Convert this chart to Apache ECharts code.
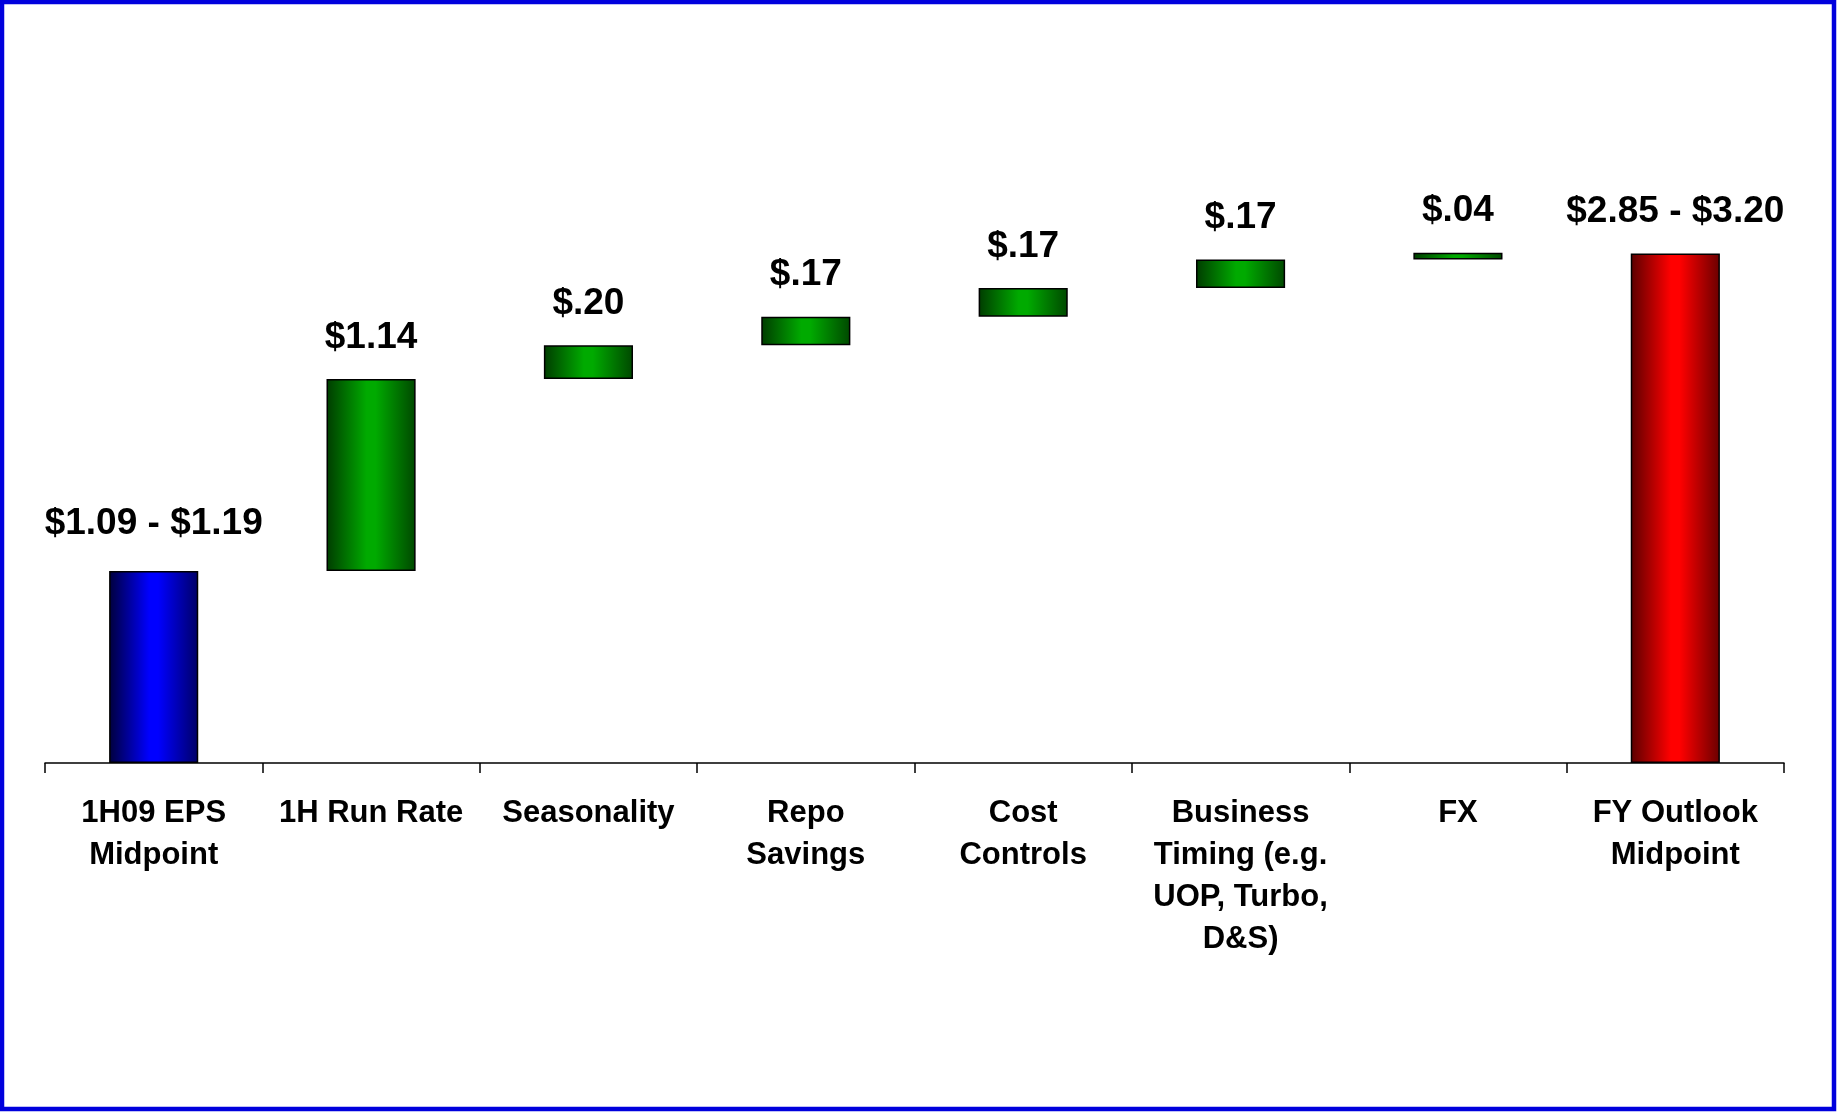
<!DOCTYPE html>
<html>
<head>
<meta charset="utf-8">
<script src="https://cdn.jsdelivr.net/npm/echarts@6/dist/echarts.min.js"></script>
<style>
  html, body { margin: 0; padding: 0; background: #ffffff; }
  #chart { width: 1837px; height: 1112px; }
</style>
</head>
<body>
<div id="chart"></div>
<script>
// EPS bridge: 1H09 midpoint to full-year outlook midpoint
const categories = [
  '1H09 EPS\nMidpoint',
  '1H Run Rate',
  'Seasonality',
  'Repo\nSavings',
  'Cost\nControls',
  'Business\nTiming (e.g.\nUOP, Turbo,\nD&S)',
  'FX',
  'FY Outlook\nMidpoint'
];
const startRange = [1.09, 1.19];   // 1H09 EPS range
const steps = [1.14, 0.20, 0.17, 0.17, 0.17, 0.04];   // increments
const endRange = [2.85, 3.20];     // FY outlook range

const FONT = '"Liberation Sans", Arial, Helvetica, sans-serif';

function money(v) {
  const s = v.toFixed(2);
  return '$' + (v < 1 ? s.replace(/^0/, '') : s);
}
function rangeText(r) { return money(r[0]) + ' - ' + money(r[1]); }

function grad(edgeL, mid, edgeR) {
  return {
    type: 'linear', x: 0, y: 0, x2: 1, y2: 0,
    colorStops: [
      { offset: 0, color: edgeL },
      { offset: 0.45, color: mid },
      { offset: 0.55, color: mid },
      { offset: 1, color: edgeR }
    ]
  };
}
const blueFill = grad('#00003c', '#0000ff', '#000066');
const greenFill = grad('#003c00', '#00aa00', '#004800');
const redFill = grad('#5a0000', '#ff0000', '#6a0000');

const startVal = (startRange[0] + startRange[1]) / 2;
const endVal = (endRange[0] + endRange[1]) / 2;

// invisible base + visible segment, stacked
const baseData = [0];
const barData = [{
  value: startVal,
  itemStyle: { color: blueFill },
  label: { formatter: rangeText(startRange), distance: 29 }
}];
let running = startVal;
steps.forEach(function (s) {
  baseData.push(running);
  barData.push({ value: s, itemStyle: { color: greenFill }, label: { formatter: money(s) } });
  running += s;
});
baseData.push(0);
barData.push({
  value: endVal,
  itemStyle: { color: redFill },
  label: { formatter: rangeText(endRange) }
});

const chart = echarts.init(document.getElementById('chart'), null, { renderer: 'canvas' });
chart.setOption({
  animation: false,
  backgroundColor: '#ffffff',
  grid: { left: 45, right: 53, top: 89.4, bottom: 349 },
  xAxis: {
    type: 'category',
    data: categories,
    axisLine: { lineStyle: { color: '#000000', width: 1.5 } },
    axisTick: { show: true, interval: 0, length: 10, lineStyle: { color: '#000000', width: 1.5 } },
    axisLabel: {
      interval: 0,
      margin: 29,
      color: '#000000',
      fontFamily: FONT,
      fontWeight: 'bold',
      fontSize: 31,
      lineHeight: 42
    }
  },
  yAxis: { type: 'value', min: 0, max: 4, show: false },
  series: [
    {
      type: 'bar',
      stack: 'bridge',
      data: baseData,
      barWidth: '41%',
      itemStyle: { color: 'rgba(0,0,0,0)' },
      silent: true
    },
    {
      type: 'bar',
      stack: 'bridge',
      data: barData,
      barWidth: '41%',
      itemStyle: { borderColor: '#000000', borderWidth: 1.5 },
      label: {
        show: true,
        position: 'top',
        distance: 23,
        color: '#000000',
        fontFamily: FONT,
        fontWeight: 'bold',
        fontSize: 37
      }
    }
  ],
  graphic: [{
    type: 'rect',
    shape: { x: 2, y: 2, width: 1832, height: 1107 },
    style: { fill: null, stroke: '#0000dd', lineWidth: 4.5 },
    silent: true,
    z: 100
  }]
});
</script>
</body>
</html>
